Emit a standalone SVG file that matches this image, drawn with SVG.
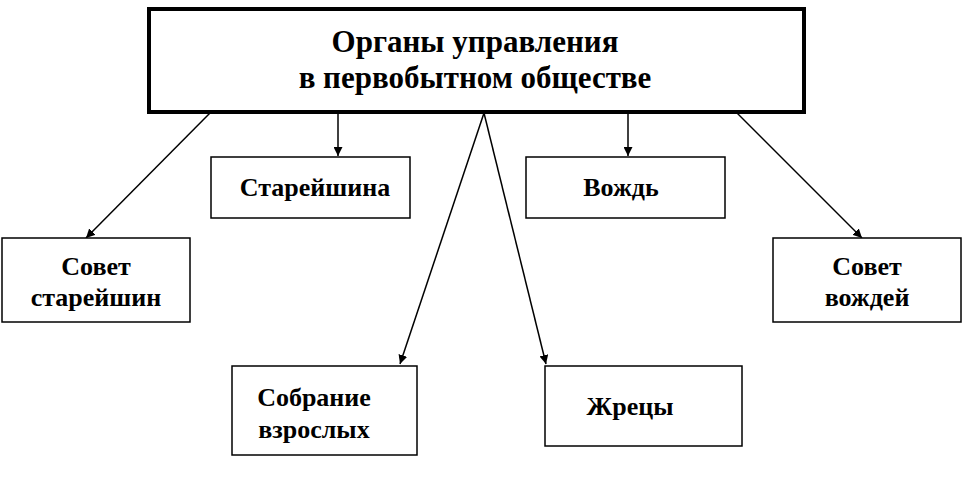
<svg xmlns="http://www.w3.org/2000/svg" width="968" height="480" viewBox="0 0 968 480">
<style>
.b{fill:#fff;stroke:#000;stroke-width:1.5}
.t{font-family:"Liberation Serif",serif;font-weight:bold;font-size:26px;text-anchor:middle;fill:#000}
.h{font-size:31px}
.c{stroke:#000;stroke-width:1.5;fill:none;marker-end:url(#a)}
</style>
<defs><marker id="a" viewBox="0 0 10 10" refX="10" refY="5" markerWidth="9" markerHeight="9" orient="auto" markerUnits="userSpaceOnUse"><path d="M0,0L10,5L0,10z" fill="#000"/></marker></defs>
<rect width="968" height="480" fill="#fff"/>
<g id="connectors">
<line class="c" x1="210" y1="113" x2="86" y2="238"/>
<line class="c" x1="338" y1="113" x2="338" y2="156"/>
<line class="c" x1="484" y1="113" x2="400" y2="364"/>
<line class="c" x1="484" y1="113" x2="546" y2="364"/>
<line class="c" x1="628" y1="113" x2="628" y2="156"/>
<line class="c" x1="737" y1="113" x2="862" y2="238"/>
</g>
<g id="top"><rect x="149" y="9" width="655" height="103" fill="#fff" stroke="#000" stroke-width="4"/>
<text class="t h" x="475" y="52">Органы управления</text><text class="t h" x="475" y="88">в первобытном обществе</text></g>
<g id="n1"><rect class="b" x="211" y="157" width="199" height="61"/><text class="t" x="315" y="196">Старейшина</text></g>
<g id="n2"><rect class="b" x="526" y="157" width="199" height="61"/><text class="t" x="621" y="196">Вождь</text></g>
<g id="n3"><rect class="b" x="2" y="238" width="188" height="84"/><text class="t" x="96" y="275">Совет</text><text class="t" x="96" y="306">старейшин</text></g>
<g id="n4"><rect class="b" x="773" y="238" width="188" height="84"/><text class="t" x="867" y="275">Совет</text><text class="t" x="867" y="306">вождей</text></g>
<g id="n5"><rect class="b" x="232" y="366" width="185" height="89"/><text class="t" x="314" y="406">Собрание</text><text class="t" x="314" y="438">взрослых</text></g>
<g id="n6"><rect class="b" x="545" y="366" width="197" height="80"/><text class="t" x="630" y="415">Жрецы</text></g>
</svg>
